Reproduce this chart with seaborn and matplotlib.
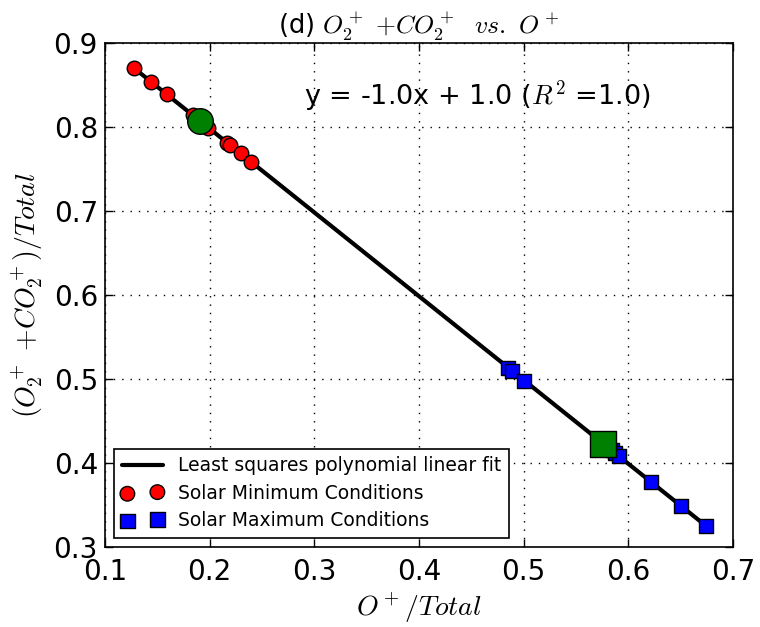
import numpy as np
import pandas as pd
import matplotlib
matplotlib.use("Agg")
import matplotlib.pyplot as plt
import seaborn as sns

# Data
min_x = [0.128, 0.1437, 0.159, 0.1838, 0.1987, 0.2163, 0.2194, 0.2296, 0.240]
min_y = [0.870, 0.854, 0.839, 0.8147, 0.7992, 0.7813, 0.779, 0.7687, 0.7583]
max_x = [0.4853, 0.4892, 0.5006, 0.584, 0.5873, 0.5908, 0.6213, 0.650, 0.674]
max_y = [0.5135, 0.5099, 0.498, 0.4155, 0.4115, 0.4083, 0.3778, 0.349, 0.3254]
x_ticks = [0.1, 0.2, 0.3, 0.4, 0.5, 0.6, 0.7]
y_ticks = [0.3, 0.4, 0.5, 0.6, 0.7, 0.8, 0.9]

sns.set_style("ticks")
plt.rcParams["font.family"] = ["DejaVu Sans"]
plt.rcParams["mathtext.fontset"] = "cm"
for k in ["text.color", "axes.labelcolor", "xtick.color", "ytick.color", "axes.edgecolor"]:
    plt.rcParams[k] = "k"

fig = plt.figure(figsize=(7.6, 6.27), dpi=100)
ax = fig.add_axes([0.138, 0.1276, 0.8265, 0.8038])

df_min = pd.DataFrame({"x": min_x, "y": min_y})
df_max = pd.DataFrame({"x": max_x, "y": max_y})
all_x = np.array(min_x + max_x)
all_y = np.array(min_y + max_y)
slope, intercept = np.polyfit(all_x, all_y, 1)
pred = slope * all_x + intercept
r2 = 1 - np.sum((all_y - pred) ** 2) / np.sum((all_y - all_y.mean()) ** 2)
fit_x = np.array([all_x.min(), all_x.max()])
df_fit = pd.DataFrame({"x": fit_x, "y": slope * fit_x + intercept})

# thin lines connecting data
sns.lineplot(data=df_min, x="x", y="y", color="k", lw=1, ax=ax, legend=False, zorder=2)
sns.lineplot(data=df_max, x="x", y="y", color="k", lw=1, ax=ax, legend=False, zorder=2)
# fit line
sns.lineplot(data=df_fit, x="x", y="y", color="k", lw=3, ax=ax,
             label="Least squares polynomial linear fit", zorder=3)
sns.scatterplot(data=df_min, x="x", y="y", marker="o", color="red", edgecolor="k",
                linewidth=1, s=110, ax=ax, label="Solar Minimum Conditions", zorder=4)
sns.scatterplot(data=df_max, x="x", y="y", marker="s", color="blue", edgecolor="k",
                linewidth=1, s=110, ax=ax, label="Solar Maximum Conditions", zorder=4)
# group means
sns.scatterplot(x=[np.mean(min_x)], y=[np.mean(min_y)], marker="o", color="green",
                edgecolor="k", linewidth=1, s=340, ax=ax, zorder=5)
sns.scatterplot(x=[np.mean(max_x)], y=[np.mean(max_y)], marker="s", color="green",
                edgecolor="k", linewidth=1, s=340, ax=ax, zorder=5)

ax.set_xlim(0.1, 0.7)
ax.set_ylim(0.3, 0.9)
ax.set_xticks(x_ticks)
ax.set_yticks(y_ticks)
ax.set_xticklabels([f"{v:.1f}" for v in x_ticks])
ax.set_yticklabels([f"{v:.1f}" for v in y_ticks])
ax.tick_params(direction="in", top=True, right=True, labelsize=20, length=6, width=1,
               colors="k")
ax.tick_params(axis="y", pad=5)
ax.tick_params(axis="x", pad=8)
for s in ax.spines.values():
    s.set_linewidth(1.2)
    s.set_color("k")
ax.grid(True, color="k", linestyle=(0, (1, 5)), linewidth=1)
ax.set_axisbelow(True)

ax.set_xlabel(r"$O^+/Total$", fontsize=20, labelpad=3, color="k")
ax.set_ylabel(r"$(O_2^+$ $+CO_2^+)/Total$", fontsize=20, labelpad=6, color="k")
ax.set_title(r"(d) $O_2^+$ $+CO_2^+$  $vs.$ $O^+$", fontsize=18.5, pad=6, color="k")

ax.text(0.29, 0.827, f"y = {slope:.1f}x + {intercept:.1f} ($R^2$ ={r2:.1f})",
        fontsize=19.5, color="k", transform=ax.transData)

leg = ax.legend(loc="lower left", scatterpoints=2, fancybox=False, edgecolor="k",
                fontsize=13.5, framealpha=1, borderaxespad=0.5, labelspacing=0.45,
                handlelength=2.2)
leg.get_frame().set_linewidth(1.2)
for t in leg.get_texts():
    t.set_color("k")

fig.savefig("out.png", dpi=100, facecolor="white")
